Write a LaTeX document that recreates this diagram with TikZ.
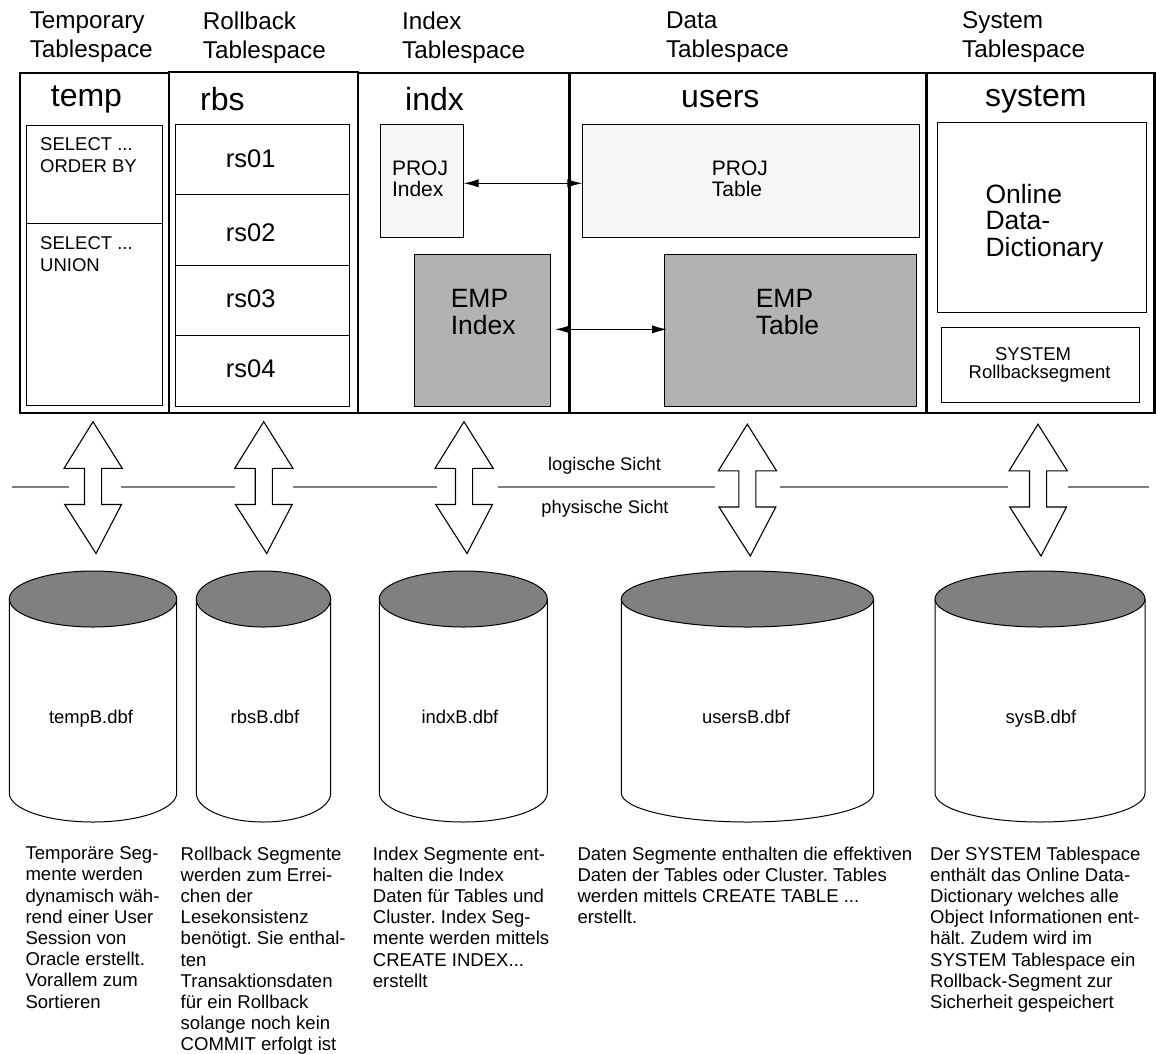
\documentclass[tikz,border=0pt]{standalone}
\usepackage{fontspec}
\setmainfont{Liberation Sans}
\usetikzlibrary{fit,arrows.meta}
\definecolor{palefill}{gray}{0.965}
\definecolor{empfill}{gray}{0.70}
\definecolor{topfill}{gray}{0.5}
\tikzset{
  panel/.style={draw,inner sep=0pt,outer sep=0pt,line width=2.2pt},
  box/.style={draw,inner sep=0pt,outer sep=0pt,line width=1pt},
  lbl/.style={inner sep=0pt,anchor=west,align=left},
  titlelbl/.style={lbl,font=\fontsize{24.3}{29}\selectfont},
  namelbl/.style={lbl,font=\fontsize{32}{36}\selectfont},
  smalllbl/.style={lbl,font=\fontsize{18.5}{21.5}\selectfont},
  midlbl/.style={lbl,font=\fontsize{21}{21}\selectfont},
  biglbl/.style={lbl,font=\fontsize{26.5}{26.7}\selectfont},
  bodylbl/.style={inner sep=0pt,anchor=north west,align=left,font=\fontsize{18.55}{21.2}\selectfont\frenchspacing},
  link/.style={line width=1.1pt,{Latex[length=15pt,width=8.3pt]}-{Latex[length=15pt,width=8.3pt]}},
  rule/.style={line width=2pt,topfill},
  updown/.style={draw,fill=white,line width=1.1pt}
}
\begin{document}
\begin{tikzpicture}[x=1pt,y=-1pt]
    \useasboundingbox (0,0) rectangle (1156,1053);

    \node[titlelbl] (ttemp) at (29.6,37.5) {Temporary\\Tablespace};
    \node[titlelbl] (trbs) at (202.7,37.5) {Rollback\\Tablespace};
    \node[titlelbl] (tindx) at (402,37.5) {Index\\Tablespace};
    \node[titlelbl] (tusers) at (665.8,37.5) {Data\\Tablespace};
    \node[titlelbl] (tsystem) at (962,37.5) {System\\Tablespace};

    \node[panel,fit={(19.6,73)(169.3,412.7)}] (ptemp) {};
    \node[panel,fit={(169.3,72)(358,412.7)}] (prbs) {};
    \node[panel,fit={(358,73)(569.7,412.7)}] (pindx) {};
    \node[panel,fit={(569.7,73)(926.5,412.7)}] (pusers) {};
    \node[panel,fit={(926.5,73)(1154.5,412.7)}] (psystem) {};
    \draw[line width=3.4pt] (pusers.north west) -- (pusers.south west);

    \node[namelbl] (ntemp) at (50.7,99) {temp};
    \node[namelbl] (nrbs) at (200,99) {rbs};
    \node[namelbl] (nindx) at (405,99) {indx};
    \node[namelbl] (nusers) at (681,99) {users};
    \node[namelbl] (nsystem) at (985,99) {system};

    \node[box,fit={(26.6,125)(162.4,223)}] (order) {};
    \node[box,fit={(26.6,223)(162.4,405)}] (union) {};
    \node[smalllbl] (torder) at (40,155) {SELECT ...\\ORDER BY};
    \node[smalllbl] (tunion) at (40,254) {SELECT ...\\UNION};

    \foreach \ya/\yb/\yt/\rname in {124/194/159/rs01,194/265/233/rs02,265/335/299/rs03,335/406.7/369/rs04}{
      \node[box,fit={(175.4,\ya)(349.6,\yb)}] (b\rname) {};
      \node[lbl,font=\fontsize{25.5}{27}\selectfont] (t\rname) at (225.7,\yt) {\rname};
    }

    \node[box,fill=palefill,fit={(380.3,124)(463.7,237)}] (projindex) {};
    \node[box,fill=empfill,fit={(414.3,254)(550.7,406.7)}] (empindex) {};
    \node[box,fill=palefill,fit={(582.3,124)(919,237)}] (projtable) {};
    \node[box,fill=empfill,fit={(664.3,254)(916,406.7)}] (emptable) {};
    \node[midlbl] (tprojindex) at (391.8,179) {PROJ\\Index};
    \node[biglbl] (tempindex) at (450.6,312) {EMP\\Index};
    \node[midlbl] (tprojtable) at (711.7,179) {PROJ\\Table};
    \node[biglbl] (temptable) at (755.6,312) {EMP\\Table};

    \draw[link] ([yshift=-2.8pt]projindex.east) -- ([yshift=-2.8pt]projtable.west);
    \draw[link,shorten <=4.3pt,shorten >=-2.7pt] ([yshift=1pt]empindex.east) -- ([yshift=1pt]emptable.west);

    \node[box,fit={(937.5,122)(1146.5,312)}] (dict) {};
    \node[box,fit={(941,327)(1139,402)}] (sysroll) {};
    \node[biglbl] (tdict) at (985.3,223) {Online\\Data-\\Dictionary};
    \node[lbl,font=\fontsize{18.5}{20}\selectfont] (tsysa) at (994.8,354) {SYSTEM};
    \node[lbl,font=\fontsize{18.5}{20}\selectfont] (tsysb) at (968.5,374) {Rollbacksegment};

    \foreach \xa/\xb in {12/68.7,120.7/235,293/437,498/714.7,780/1007.7,1068/1149}{
      \draw[rule] (\xa,486.7) -- (\xb,486.7);
    }
    \foreach \ax/\ay in {93/0,263.7/0,464/0,747.3/2.5,1038/2.5}{
      \draw[updown] (\ax,421.7+\ay) -- ({\ax+29.3},468.4+\ay) -- ({\ax+8.6},468.4+\ay) -- ({\ax+8.6},504.5+\ay)
        -- ({\ax+28.5},504.5+\ay) -- ({\ax+3},553.5+\ay) -- ({\ax-28.3},504.5+\ay) -- ({\ax-8.5},504.5+\ay)
        -- ({\ax-8.5},468.4+\ay) -- ({\ax-29},468.4+\ay) -- cycle;
    }
    \node[lbl,anchor=center,font=\fontsize{18.3}{21}\selectfont] (logic) at (604.5,465.5) {logische Sicht};
    \node[lbl,anchor=center,font=\fontsize{18.3}{21}\selectfont] (phys) at (605,508.5) {physische Sicht};

    \foreach \cx/\rx/\lx/\dbf in {93/83.7/91/tempB.dbf,263.5/67.2/265/rbsB.dbf,463.3/84/460/indxB.dbf,747.4/126.1/746/usersB.dbf,1040/105/1041/sysB.dbf}{
      \draw[line width=1pt] (\cx-\rx,599) -- (\cx-\rx,793) arc[start angle=180,end angle=360,x radius=\rx pt,y radius=29pt] -- (\cx+\rx,599);
      \draw[line width=1pt,fill=topfill] (\cx,599) ellipse[x radius=\rx pt,y radius=28pt];
      \node[lbl,anchor=base,font=\fontsize{18.4}{21}\selectfont] (\dbf) at (\lx,723.3) {\dbf};
    }

    \node[bodylbl] (dtemp) at (25.3,846.5) {Temporäre Seg-\\mente werden\\dynamisch wäh-\\rend einer User\\Session von\\Oracle erstellt.\\Vorallem zum\\Sortieren};
    \node[bodylbl] (drbs) at (180.5,846.5) {Rollback Segmente\\werden zum Errei-\\chen der\\Lesekonsistenz\\benötigt. Sie enthal-\\ten\\Transaktionsdaten\\für ein Rollback\\solange noch kein\\COMMIT erfolgt ist};
    \node[bodylbl] (dindx) at (372.7,846.5) {Index Segmente ent-\\halten die Index\\Daten für Tables und\\Cluster. Index Seg-\\mente werden mittels\\CREATE INDEX...\\erstellt};
    \node[bodylbl] (dusers) at (577.3,846.5) {Daten Segmente enthalten die effektiven\\Daten der Tables oder Cluster. Tables\\werden mittels CREATE TABLE ...\\erstellt.};
    \node[bodylbl] (dsystem) at (930,846.5) {Der SYSTEM Tablespace\\enthält das Online Data-\\Dictionary welches alle\\Object Informationen ent-\\hält. Zudem wird im\\SYSTEM Tablespace ein\\Rollback-Segment zur\\Sicherheit gespeichert};
\end{tikzpicture}
\end{document}
